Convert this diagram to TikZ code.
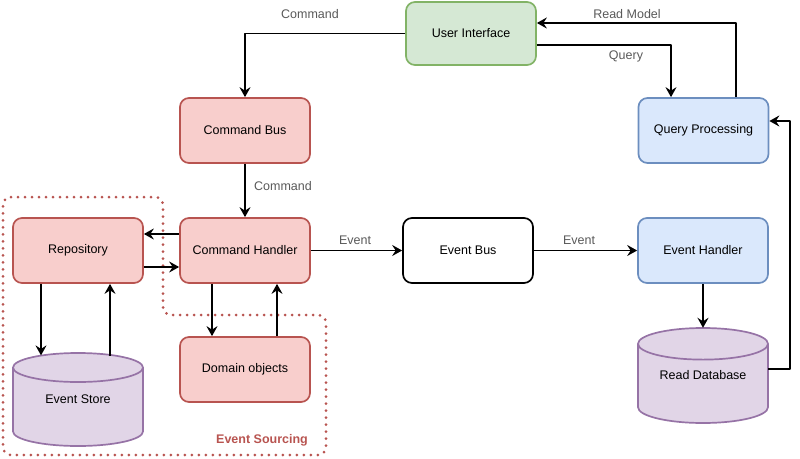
\documentclass[tikz,border=0pt]{standalone}
\usepackage{fontspec}
\setmainfont{Liberation Sans}
\usetikzlibrary{arrows.meta}

\definecolor{rossoF}{HTML}{F8CECC}\definecolor{rossoB}{HTML}{B85450}
\definecolor{verdeF}{HTML}{D5E8D4}\definecolor{verdeB}{HTML}{82B366}
\definecolor{bluF}{HTML}{DAE8FC}\definecolor{bluB}{HTML}{6C8EBF}
\definecolor{violaF}{HTML}{E1D5E7}\definecolor{violaB}{HTML}{9673A6}

% cilindro verticale: x centro, y alto, y basso, raggio y dell'ellisse
\newcommand{\cilindro}[4]{%
  \filldraw[cil] ({#1-65},{#2+#4}) -- ({#1-65},{#3-#4})
     arc[start angle=180,end angle=0,x radius=65,y radius=#4]
     -- ({#1+65},{#2+#4})
     arc[start angle=0,end angle=-180,x radius=65,y radius=#4] -- cycle;
  \draw[cil] ({#1-65},{#2+#4})
     arc[start angle=180,end angle=0,x radius=65,y radius=#4];}

\begin{document}
\begin{tikzpicture}[x=1pt,y=-1pt,line join=round,
    font=\fontsize{12.5}{15}\selectfont,
    base/.style={rectangle,minimum width=130pt,minimum height=65pt,inner sep=0pt},
    blocco/.style={base,rounded corners=9pt,draw,line width=1.7pt},
    rosso/.style={blocco,fill=rossoF,draw=rossoB},
    verde/.style={blocco,fill=verdeF,draw=verdeB},
    blu/.style={blocco,fill=bluF,draw=bluB},
    cil/.style={draw=violaB,fill=violaF,line width=1.7pt},
    freccia/.style={line width=1.7pt,-{Stealth[length=10pt,width=11pt,inset=3.5pt]}},
    etichetta/.style={text=black!65,inner sep=0pt},
    regione/.style={line width=3pt,rossoB,line cap=round,
                    dash pattern=on 0pt off 7pt,rounded corners=8pt}]

  \useasboundingbox (0,0) rectangle (800,458);

  % ---- la regione Event Sourcing -------------------------------------------
  \draw[regione] (3,197) -- (163,197) -- (163,315) -- (326,315)
                 -- (326,455) -- (3,455) -- cycle;
  \node[text=rossoB,font=\fontsize{12.5}{15}\selectfont\bfseries,inner sep=0pt]
       (ES-tit) at (262,440) {Event Sourcing};

  % ---- i blocchi ------------------------------------------------------------
  \node[verde,minimum height=63pt] (UI) at (471,33.5) {User Interface};
  \node[rosso] (CB)   at (245,130.5) {Command Bus};
  \node[blu]   (QP)   at (703.5,130.5) {Query Processing};
  \node[rosso] (Repo) at (78,250.5)  {Repository};
  \node[rosso] (CH)   at (245,250.5) {Command Handler};
  \node[blocco,draw=black] (EB) at (468,250.5) {Event Bus};
  \node[blu]   (EH)   at (703,250.5) {Event Handler};
  \node[rosso] (DO)   at (245,369.5) {Domain objects};

  % ---- i due database -------------------------------------------------------
  \cilindro{78}{353}{446}{14.5}
  \node[base,minimum height=93pt] (ES) at (78,399.5) {Event Store};
  \cilindro{703}{328}{423}{15.8}
  \node[base,minimum height=95pt] (RD) at (703,375.5) {Read Database};

  % ---- lato comandi ---------------------------------------------------------
  \draw[freccia] (UI.west) -| (CB.north);
  \node[etichetta] (l-cmd1) at (310,14) {Command};
  \draw[freccia] (CB) -- (CH);
  \node[etichetta] (l-cmd2) at (283,186) {Command};

  \draw[freccia] ([yshift=16.5pt]CH.west) -- ([yshift=16.5pt]Repo.east);
  \draw[freccia] ([yshift=-16.5pt]Repo.east) -- ([yshift=-16.5pt]CH.west);
  \draw[freccia] ([xshift=-37pt]Repo.south) -- ([xshift=-37pt,yshift=-2.6pt]ES.north);
  \draw[freccia] ([xshift=32pt,yshift=-3.2pt]ES.north) -- ([xshift=32pt]Repo.south);
  \draw[freccia] ([xshift=-33pt]CH.south) -- ([xshift=-33pt]DO.north);
  \draw[freccia] ([xshift=32pt]DO.north) -- ([xshift=32pt]CH.south);

  % ---- eventi ---------------------------------------------------------------
  \draw[freccia] (CH) -- (EB);
  \node[etichetta] (l-ev1) at (355,240) {Event};
  \draw[freccia] (EB) -- (EH);
  \node[etichetta] (l-ev2) at (579,240) {Event};
  \draw[freccia] (EH.south) -- (RD.north);

  % ---- lato interrogazioni --------------------------------------------------
  \draw[freccia] ([yshift=-11.5pt]UI.east) -| ([xshift=-32.5pt]QP.north);
  \node[etichetta] (l-q) at (626,56) {Query};
  \draw[freccia] ([xshift=32.5pt]QP.north) |- ([yshift=10.5pt]UI.east);
  \node[etichetta] (l-rm) at (627,14) {Read Model};
  \draw[freccia] ([yshift=6.5pt]RD.east) -- ++(22,0) |- ([yshift=9.5pt]QP.east);

\end{tikzpicture}
\end{document}
